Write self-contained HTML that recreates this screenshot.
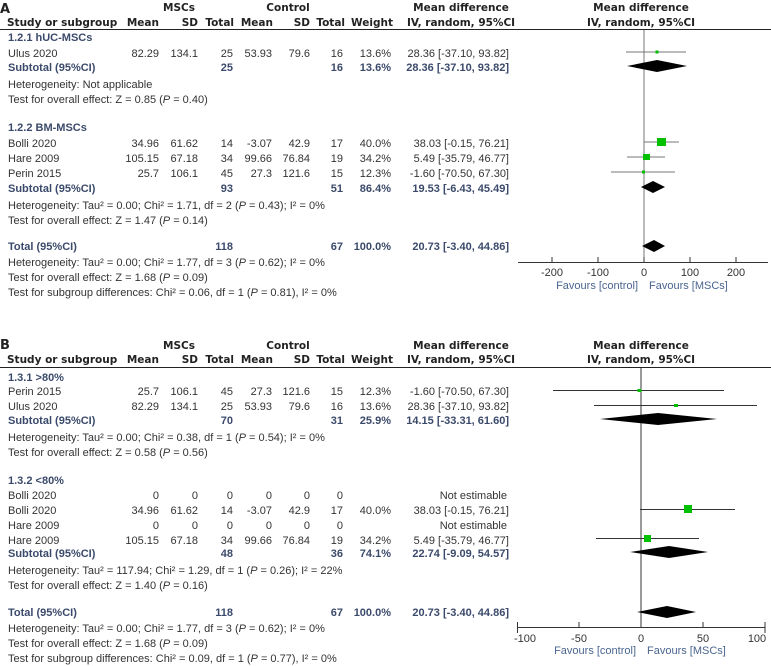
<!DOCTYPE html>
<html><head><meta charset="utf-8"><style>
body{margin:0;background:#fff;}
svg{display:block;font-family:"Liberation Sans",Arial,sans-serif;font-size:11px;fill:#333;}
.h{font-family:"DejaVu Sans",sans-serif;font-weight:bold;font-size:10.5px;fill:#222;}
.b{font-weight:bold;fill:#3b4a6b;}
.g{font-weight:bold;fill:#3b4a6b;}
.e{text-anchor:end;}
.m{text-anchor:middle;}
.f{fill:#4a6590;}
</style></head><body>
<svg width="771" height="666" viewBox="0 0 771 666">
<!-- PANEL A -->
<text x="0" y="13" class="h" style="font-size:13px">A</text>
<text x="179" y="11" class="h m">MSCs</text>
<text x="288" y="11" class="h m">Control</text>
<text x="461" y="11" class="h m">Mean difference</text>
<text x="641" y="11" class="h m">Mean difference</text>
<text x="7" y="26" class="h">Study or subgroup</text>
<text x="159" y="26" class="h e">Mean</text>
<text x="198" y="26" class="h e">SD</text>
<text x="234" y="26" class="h e">Total</text>
<text x="273" y="26" class="h e">Mean</text>
<text x="310" y="26" class="h e">SD</text>
<text x="345" y="26" class="h e">Total</text>
<text x="393" y="26" class="h e">Weight</text>
<text x="461" y="26" class="h m">IV, random, 95%CI</text>
<text x="641" y="26" class="h m">IV, random, 95%CI</text>
<line x1="0" y1="29.5" x2="771" y2="29.5" stroke="#222" stroke-width="1"/>

<text x="8" y="41" class="b">1.2.1 hUC-MSCs</text>
<g>
<text x="8" y="57">Ulus 2020</text><text x="159" y="57" class="e">82.29</text><text x="198" y="57" class="e">134.1</text><text x="233" y="57" class="e">25</text><text x="272" y="57" class="e">53.93</text><text x="310" y="57" class="e">79.6</text><text x="343" y="57" class="e">16</text><text x="391" y="57" class="e">13.6%</text><text x="509" y="57" class="e">28.36 [-37.10, 93.82]</text>
</g>
<text x="8" y="71" class="g">Subtotal (95%CI)</text><text x="233" y="71" class="g e">25</text><text x="343" y="71" class="g e">16</text><text x="391" y="71" class="g e">13.6%</text><text x="509" y="71" class="g e">28.36 [-37.10, 93.82]</text>
<text x="8" y="88">Heterogeneity: Not applicable</text>
<text x="8" y="103">Test for overall effect: Z = 0.85 (<tspan font-style="italic">P</tspan> = 0.40)</text>
<text x="8" y="131" class="b">1.2.2 BM-MSCs</text>
<text x="8" y="147">Bolli 2020</text><text x="159" y="147" class="e">34.96</text><text x="198" y="147" class="e">61.62</text><text x="233" y="147" class="e">14</text><text x="272" y="147" class="e">-3.07</text><text x="310" y="147" class="e">42.9</text><text x="343" y="147" class="e">17</text><text x="391" y="147" class="e">40.0%</text><text x="509" y="147" class="e">38.03 [-0.15, 76.21]</text>
<text x="8" y="162">Hare 2009</text><text x="159" y="162" class="e">105.15</text><text x="198" y="162" class="e">67.18</text><text x="233" y="162" class="e">34</text><text x="272" y="162" class="e">99.66</text><text x="310" y="162" class="e">76.84</text><text x="343" y="162" class="e">19</text><text x="391" y="162" class="e">34.2%</text><text x="509" y="162" class="e">5.49 [-35.79, 46.77]</text>
<text x="8" y="177">Perin 2015</text><text x="159" y="177" class="e">25.7</text><text x="198" y="177" class="e">106.1</text><text x="233" y="177" class="e">45</text><text x="272" y="177" class="e">27.3</text><text x="310" y="177" class="e">121.6</text><text x="343" y="177" class="e">15</text><text x="391" y="177" class="e">12.3%</text><text x="509" y="177" class="e">-1.60 [-70.50, 67.30]</text>
<text x="8" y="192" class="g">Subtotal (95%CI)</text><text x="233" y="192" class="g e">93</text><text x="343" y="192" class="g e">51</text><text x="391" y="192" class="g e">86.4%</text><text x="509" y="192" class="g e">19.53 [-6.43, 45.49]</text>
<text x="8" y="209">Heterogeneity: Tau² = 0.00; Chi² = 1.71, df = 2 (<tspan font-style="italic">P</tspan> = 0.43); I² = 0%</text>
<text x="8" y="224">Test for overall effect: Z = 1.47 (<tspan font-style="italic">P</tspan> = 0.14)</text>
<text x="8" y="250" class="g">Total (95%CI)</text><text x="233" y="250" class="g e">118</text><text x="343" y="250" class="g e">67</text><text x="391" y="250" class="g e">100.0%</text><text x="509" y="250" class="g e">20.73 [-3.40, 44.86]</text>
<text x="8" y="266">Heterogeneity: Tau² = 0.00; Chi² = 1.77, df = 3 (<tspan font-style="italic">P</tspan> = 0.62); I² = 0%</text>
<text x="8" y="281">Test for overall effect: Z = 1.68 (<tspan font-style="italic">P</tspan> = 0.09)</text>
<text x="8" y="296">Test for subgroup differences: Chi² = 0.06, df = 1 (<tspan font-style="italic">P</tspan> = 0.81), I² = 0%</text>

<!-- forest A -->
<g stroke="#777" stroke-width="1">
<line x1="644" y1="30" x2="644" y2="263"/>
<line x1="626" y1="52" x2="686" y2="52"/>
<line x1="644" y1="142" x2="679" y2="142"/>
<line x1="627" y1="157" x2="665" y2="157"/>
<line x1="611" y1="172" x2="675" y2="172"/>
</g>
<g fill="#00c000">
<rect x="655.5" y="50.5" width="3" height="3"/>
<rect x="657" y="138" width="9" height="8"/>
<rect x="643" y="154" width="7" height="6"/>
<rect x="642" y="170.5" width="3" height="3"/>
</g>
<g fill="#000">
<polygon points="627,66 657,60 687,66 657,72"/>
<polygon points="641,187 653,181 665,187 653,193"/>
<polygon points="642,246 654,240 665,246 654,252"/>
</g>
<g stroke="#333" stroke-width="1">
<line x1="518" y1="262.5" x2="768" y2="262.5"/>
<line x1="552" y1="257" x2="552" y2="263"/><line x1="598" y1="257" x2="598" y2="263"/><line x1="644" y1="257" x2="644" y2="263"/><line x1="690" y1="257" x2="690" y2="263"/><line x1="736" y1="257" x2="736" y2="263"/>
</g>
<text x="552" y="276" class="m">-200</text><text x="598" y="276" class="m">-100</text><text x="644" y="276" class="m">0</text><text x="690" y="276" class="m">100</text><text x="736" y="276" class="m">200</text>
<text x="638" y="289" class="e f">Favours [control]</text><text x="649" y="289" class="f">Favours [MSCs]</text>

<!-- PANEL B -->
<text x="0" y="349" class="h" style="font-size:13px">B</text>
<text x="179" y="349" class="h m">MSCs</text>
<text x="288" y="349" class="h m">Control</text>
<text x="461" y="349" class="h m">Mean difference</text>
<text x="641" y="349" class="h m">Mean difference</text>
<text x="7" y="363" class="h">Study or subgroup</text>
<text x="159" y="363" class="h e">Mean</text>
<text x="198" y="363" class="h e">SD</text>
<text x="234" y="363" class="h e">Total</text>
<text x="273" y="363" class="h e">Mean</text>
<text x="310" y="363" class="h e">SD</text>
<text x="345" y="363" class="h e">Total</text>
<text x="393" y="363" class="h e">Weight</text>
<text x="461" y="363" class="h m">IV, random, 95%CI</text>
<text x="641" y="363" class="h m">IV, random, 95%CI</text>
<line x1="0" y1="367.5" x2="771" y2="367.5" stroke="#222" stroke-width="1"/>

<text x="8" y="381" class="b">1.3.1 &gt;80%</text>
<text x="8" y="395">Perin 2015</text><text x="159" y="395" class="e">25.7</text><text x="198" y="395" class="e">106.1</text><text x="233" y="395" class="e">45</text><text x="272" y="395" class="e">27.3</text><text x="310" y="395" class="e">121.6</text><text x="343" y="395" class="e">15</text><text x="391" y="395" class="e">12.3%</text><text x="509" y="395" class="e">-1.60 [-70.50, 67.30]</text>
<text x="8" y="410">Ulus 2020</text><text x="159" y="410" class="e">82.29</text><text x="198" y="410" class="e">134.1</text><text x="233" y="410" class="e">25</text><text x="272" y="410" class="e">53.93</text><text x="310" y="410" class="e">79.6</text><text x="343" y="410" class="e">16</text><text x="391" y="410" class="e">13.6%</text><text x="509" y="410" class="e">28.36 [-37.10, 93.82]</text>
<text x="8" y="424" class="g">Subtotal (95%CI)</text><text x="233" y="424" class="g e">70</text><text x="343" y="424" class="g e">31</text><text x="391" y="424" class="g e">25.9%</text><text x="509" y="424" class="g e">14.15 [-33.31, 61.60]</text>
<text x="8" y="441">Heterogeneity: Tau² = 0.00; Chi² = 0.38, df = 1 (<tspan font-style="italic">P</tspan> = 0.54); I² = 0%</text>
<text x="8" y="456">Test for overall effect: Z = 0.58 (<tspan font-style="italic">P</tspan> = 0.56)</text>
<text x="8" y="484" class="b">1.3.2 &lt;80%</text>
<text x="8" y="499">Bolli 2020</text><text x="159" y="499" class="e">0</text><text x="198" y="499" class="e">0</text><text x="233" y="499" class="e">0</text><text x="272" y="499" class="e">0</text><text x="310" y="499" class="e">0</text><text x="343" y="499" class="e">0</text><text x="507" y="499" class="e">Not estimable</text>
<text x="8" y="514">Bolli 2020</text><text x="159" y="514" class="e">34.96</text><text x="198" y="514" class="e">61.62</text><text x="233" y="514" class="e">14</text><text x="272" y="514" class="e">-3.07</text><text x="310" y="514" class="e">42.9</text><text x="343" y="514" class="e">17</text><text x="391" y="514" class="e">40.0%</text><text x="509" y="514" class="e">38.03 [-0.15, 76.21]</text>
<text x="8" y="529">Hare 2009</text><text x="159" y="529" class="e">0</text><text x="198" y="529" class="e">0</text><text x="233" y="529" class="e">0</text><text x="272" y="529" class="e">0</text><text x="310" y="529" class="e">0</text><text x="343" y="529" class="e">0</text><text x="507" y="529" class="e">Not estimable</text>
<text x="8" y="544">Hare 2009</text><text x="159" y="544" class="e">105.15</text><text x="198" y="544" class="e">67.18</text><text x="233" y="544" class="e">34</text><text x="272" y="544" class="e">99.66</text><text x="310" y="544" class="e">76.84</text><text x="343" y="544" class="e">19</text><text x="391" y="544" class="e">34.2%</text><text x="509" y="544" class="e">5.49 [-35.79, 46.77]</text>
<text x="8" y="557" class="g">Subtotal (95%CI)</text><text x="233" y="557" class="g e">48</text><text x="343" y="557" class="g e">36</text><text x="391" y="557" class="g e">74.1%</text><text x="509" y="557" class="g e">22.74 [-9.09, 54.57]</text>
<text x="8" y="574">Heterogeneity: Tau² = 117.94; Chi² = 1.29, df = 1 (<tspan font-style="italic">P</tspan> = 0.26); I² = 22%</text>
<text x="8" y="589">Test for overall effect: Z = 1.40 (<tspan font-style="italic">P</tspan> = 0.16)</text>
<text x="8" y="616" class="g">Total (95%CI)</text><text x="233" y="616" class="g e">118</text><text x="343" y="616" class="g e">67</text><text x="391" y="616" class="g e">100.0%</text><text x="509" y="616" class="g e">20.73 [-3.40, 44.86]</text>
<text x="8" y="632">Heterogeneity: Tau² = 0.00; Chi² = 1.77, df = 3 (<tspan font-style="italic">P</tspan> = 0.62); I² = 0%</text>
<text x="8" y="647">Test for overall effect: Z = 1.68 (<tspan font-style="italic">P</tspan> = 0.09)</text>
<text x="8" y="662">Test for subgroup differences: Chi² = 0.09, df = 1 (<tspan font-style="italic">P</tspan> = 0.77), I² = 0%</text>

<!-- forest B -->
<g stroke="#333" stroke-width="1">
<line x1="641" y1="368" x2="641" y2="627"/>
<line x1="553" y1="390.5" x2="724" y2="390.5"/>
<line x1="594" y1="405.5" x2="757" y2="405.5"/>
<line x1="640" y1="509.5" x2="735" y2="509.5"/>
<line x1="596" y1="538.5" x2="699" y2="538.5"/>
</g>
<g fill="#00c000">
<rect x="637.5" y="389" width="4" height="3"/>
<rect x="674" y="404" width="4" height="3"/>
<rect x="684" y="505" width="8" height="8"/>
<rect x="644" y="535" width="7" height="7"/>
</g>
<g fill="#000">
<polygon points="600,419 658,413 717,419 658,425"/>
<polygon points="630,552 669,546 708,552 669,558"/>
<polygon points="637,612 667,606 696,612 667,618"/>
</g>
<g stroke="#333" stroke-width="1">
<line x1="517" y1="627.5" x2="765" y2="627.5"/>
<line x1="517.5" y1="622" x2="517.5" y2="633"/><line x1="579" y1="622" x2="579" y2="628"/><line x1="641" y1="622" x2="641" y2="628"/><line x1="703" y1="622" x2="703" y2="628"/><line x1="765" y1="622" x2="765" y2="633"/>
</g>
<text x="525" y="642" class="m">-100</text><text x="579" y="642" class="m">-50</text><text x="641" y="642" class="m">0</text><text x="703" y="642" class="m">50</text><text x="757" y="642" class="m">100</text>
<text x="636" y="654" class="e f">Favours [control]</text><text x="647" y="654" class="f">Favours [MSCs]</text>
</svg>
</body></html>
